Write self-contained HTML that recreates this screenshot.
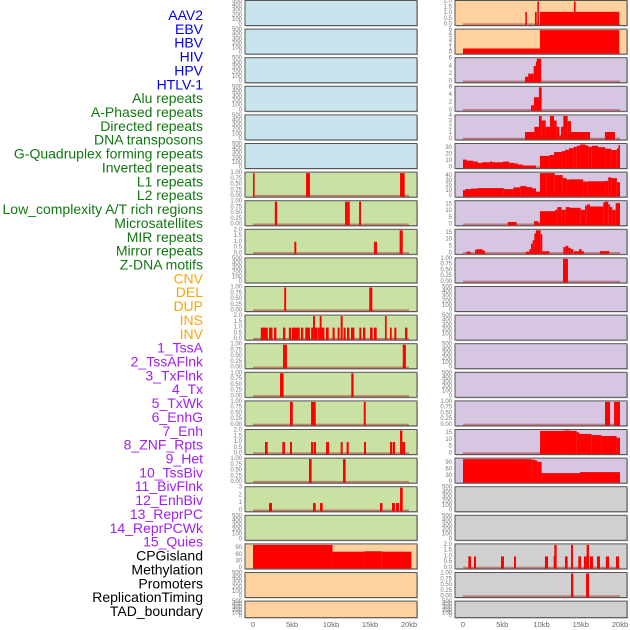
<!DOCTYPE html>
<html><head><meta charset="utf-8">
<style>
html,body{margin:0;padding:0;background:#fff;}
svg{display:block;}
.lbl{font-family:"Liberation Sans",sans-serif;font-size:14px;}
.tk{font-family:"Liberation Sans",sans-serif;font-size:6px;fill:#777;}
.xt{font-family:"Liberation Sans",sans-serif;font-size:7.5px;fill:#666;}
</style></head>
<body>
<svg id="chart" width="630" height="630" viewBox="0 0 630 630"></svg>
<script>
// ---- data: segments [startKb, endKb, value] ----
const labels = ["AAV2","EBV","HBV","HIV","HPV","HTLV-1","Alu repeats","A-Phased repeats","Directed repeats","DNA transposons","G-Quadruplex forming repeats","Inverted repeats","L1 repeats","L2 repeats","Low_complexity A/T rich regions","Microsatellites","MIR repeats","Mirror repeats","Z-DNA motifs","CNV","DEL","DUP","INS","INV","1_TssA","2_TssAFlnk","3_TxFlnk","4_Tx","5_TxWk","6_EnhG","7_Enh","8_ZNF_Rpts","9_Het","10_TssBiv","11_BivFlnk","12_EnhBiv","13_ReprPC","14_ReprPCWk","15_Quies","CPGisland","Methylation","Promoters","ReplicationTiming","TAD_boundary"];
const labelColors = ["#0000ee","#0000ee","#0000ee","#0000ee","#0000ee","#0000ee","#117711","#117711","#117711","#117711","#117711","#117711","#117711","#117711","#117711","#117711","#117711","#117711","#117711","#ffa500","#ffa500","#ffa500","#ffa500","#ffa500","#a020f0","#a020f0","#a020f0","#a020f0","#a020f0","#a020f0","#a020f0","#a020f0","#a020f0","#a020f0","#a020f0","#a020f0","#a020f0","#a020f0","#a020f0","#000","#000","#000","#000","#000"];
const xTickKb = [0,5,10,15,20];
const xTickLabels = ["0","5kb","10kb","15kb","20kb"];

const trAlu = [[0,0.2,1],[6.8,7.3,1],[18.85,19.45,1]];
const trAPhased = [[2.8,3.1,1],[11.8,12.1,1],[12.1,12.4,1],[13.6,13.85,1]];
const trDirected = [[5.3,5.55,1],[15.5,15.9,1],[18.8,19.2,2]];
const trGQuad = [[4.0,4.25,1],[14.9,15.3,1]];
const trInverted = [[1.0,1.9,1],[2.05,2.5,1],[2.7,3.0,1],[3.85,4.15,1],[4.6,4.9,1],[5.0,6.0,1],[6.15,6.45,1],[6.7,7.3,1],[7.45,7.7,1],[7.7,7.95,2],[7.95,8.25,1],[8.3,8.55,1],[8.55,8.8,2],[8.8,9.15,1],[9.35,9.7,1],[10.2,10.47,1],[10.85,11.1,1],[11.24,11.5,2],[11.62,11.88,1],[12.05,12.35,1],[12.56,13.0,1],[13.63,13.89,1],[14.1,14.4,1],[15.0,15.34,1],[15.5,15.86,1],[16.92,17.14,2],[17.56,17.78,1],[18.12,18.38,1],[19.49,19.79,1]];
const trL1 = [[3.85,4.35,1],[19.2,19.6,1]];
const trL2 = [[3.46,3.93,1],[12.6,12.9,1]];
const trLowComp = [[4.74,5.1,1],[7.44,8.04,1],[14.2,14.45,1]];
const trMicro = [[1.54,1.88,1],[3.76,4.1,1],[4.74,5.0,1],[7.44,7.74,1],[7.82,8.08,1],[9.36,9.74,1],[11.24,11.5,1],[12.0,12.27,1],[14.23,14.49,1],[17.56,17.82,1],[17.9,18.2,1],[18.85,19.15,2],[19.15,19.5,1]];
const trMIR = [[7.18,7.52,1],[11.54,11.88,1]];
const trMirror = [[2.05,2.44,1],[7.7,8.04,1],[8.59,8.93,1],[16.28,16.6,1],[17.82,18.2,1],[18.33,18.72,1],[18.85,19.19,3]];
const trDUP = [[0,10.2,105],[10.2,14.3,74],[14.3,16.5,76],[16.5,20.3,74]];
const trINS = [[7.94,8.11,1.1],[9.17,9.39,1.1],[9.47,9.64,2],[9.8,14.14,1.1],[14.14,14.31,2],[14.31,19.9,1.1]];
const trINV = [[0,9.8,1],[9.8,19.9,5]];
const trTssA = [[7.9,8.3,1.3],[8.3,9.0,2.1],[9.0,9.3,4.1],[9.3,9.4,5.2],[9.4,9.97,6.2]];
const trTssAFlnk = [[8.66,9.04,1.3],[9.04,9.68,3.4],[9.68,10.02,6.2]];
const trTxFlnk = [[7.9,9.09,1.2],[9.09,9.68,2.1],[9.68,10.02,4],[10.02,10.53,3.2],[10.53,11.08,2.1],[11.08,11.59,4],[11.59,11.93,3.2],[11.93,12.27,2.1],[12.27,12.48,0.6],[12.48,12.78,2.1],[12.78,13.33,4],[13.33,13.76,3.1],[13.76,16.18,1.2],[18.08,19.36,1.2]];
const trTx = [[0,0.5,12],[0.5,1.3,10.3],[1.3,1.9,9],[1.9,2.4,7],[2.4,3.4,8],[3.4,3.8,9],[3.8,5.1,8],[5.1,5.9,9],[5.9,6.6,7],[6.6,7.0,6],[7.0,7.6,4.5],[7.6,9.3,3],[9.8,11.0,17.7],[11.0,11.6,19],[11.6,12.6,23.6],[12.6,13.0,25],[13.0,13.5,27],[13.5,14.1,29.5],[14.1,14.5,31.5],[14.5,14.9,33],[14.9,15.6,35],[15.6,16.0,33.5],[16.0,16.4,31.5],[16.4,17.2,33],[17.2,18.1,31],[18.1,18.9,28.6],[18.9,19.6,26.6],[19.6,19.8,29],[19.8,20.0,34]];
const trTxWk = [[0,0.3,12],[0.3,1.0,14],[1.0,1.8,15],[1.8,5.2,16],[5.2,6.4,14],[6.4,7.3,17.4],[7.3,8.1,20],[8.1,8.8,18],[8.8,9.3,15.5],[9.3,9.8,9],[9.8,10.6,48],[10.6,11.7,46],[11.7,12.7,42],[12.7,13.2,36],[13.2,13.5,33],[13.5,15.3,33.5],[15.3,15.9,29],[15.9,18.1,29.7],[18.1,18.5,30.5],[18.5,18.9,37.4],[18.9,19.6,36],[19.6,20.0,27.7]];
const trEnhG = [[5.69,6.84,2],[9.04,9.6,2.6],[9.6,9.8,1.5],[9.8,11.72,10],[11.72,12.02,11],[12.02,12.57,13],[12.57,13.08,11],[13.08,13.63,13],[13.63,14.99,12.5],[14.99,15.54,11],[15.54,15.76,14],[15.76,16.18,15],[16.18,17.87,13.5],[17.87,18.09,16.5],[18.09,18.5,18],[18.5,18.73,15],[18.73,19.02,13],[19.02,19.45,11],[19.45,20.0,16]];
const trEnh = [[0.47,0.98,1.2],[1.53,1.74,2.6],[1.74,2.5,3],[2.5,2.8,2],[8.02,8.45,1.2],[8.45,8.66,3],[8.66,8.87,7],[8.87,9.09,9.5],[9.09,9.3,14.5],[9.3,9.89,17],[9.89,10.1,14],[10.1,11.0,1.5],[12.78,13.08,4.6],[13.08,13.42,5.5],[13.42,13.72,4],[13.72,14.05,3],[14.14,14.78,1.5],[14.78,15.11,3],[15.11,15.41,1.5],[17.45,18.64,1.6]];
const trZNF = [[12.74,13.37,1]];
const trEmpty = [];
const trQuies = [[18.09,18.73,1],[19.24,20.0,1]];
const trCPG = [[9.81,12.87,16.5],[12.87,13.63,17],[13.63,14.48,16.5],[14.48,14.78,15.5],[14.78,16.39,14.3],[16.39,17.66,13.5],[17.66,19.57,12.8],[19.57,20.0,11.5]];
const trMeth = [[0,8.74,110],[8.74,9.17,106],[9.17,9.47,103],[9.47,10.02,96],[10.02,14.9,42.6],[14.9,20.0,47.4]];
const trReplic = [[0.68,1.02,1],[1.4,1.66,1],[4.84,5.22,1],[6.5,6.75,1],[10.44,10.83,1],[11.55,11.63,1],[11.63,11.93,2],[12.99,13.33,1],[13.76,14.01,2],[14.69,15.03,1],[15.41,15.75,1],[15.75,16.05,2],[16.18,16.56,1],[17.07,17.45,1],[18.2,18.6,1],[19.49,19.87,1]];
const trTAD = [[13.76,14.05,1],[15.67,16.05,1]];

const tk500 = ["0","100","200","300","400","500"];
const tk1 = ["0.00","0.25","0.50","0.75","1.00"];
const tk2 = ["0.0","0.5","1.0","1.5","2.0"];

// column, row, name, data, tick labels, ymax, background
const tracks = [
 ["AAV2",trEmpty,tk500,500,"#c9e4ec"],["EBV",trEmpty,tk500,500,"#c9e4ec"],["HBV",trEmpty,tk500,500,"#c9e4ec"],["HIV",trEmpty,tk500,500,"#c9e4ec"],["HPV",trEmpty,tk500,500,"#c9e4ec"],["HTLV-1",trEmpty,tk500,500,"#c9e4ec"],
 ["Alu",trAlu,tk1,1,"#c9e2a3"],["A-Phased",trAPhased,tk1,1,"#c9e2a3"],["Directed",trDirected,tk2,2,"#c9e2a3"],["DNA-transposons",trEmpty,tk500,500,"#c9e2a3"],["G-Quadruplex",trGQuad,tk1,1,"#c9e2a3"],["Inverted",trInverted,tk2,2,"#c9e2a3"],["L1",trL1,tk1,1,"#c9e2a3"],["L2",trL2,tk1,1,"#c9e2a3"],["Low-complexity",trLowComp,tk1,1,"#c9e2a3"],["Microsatellites",trMicro,tk2,2,"#c9e2a3"],["MIR",trMIR,tk1,1,"#c9e2a3"],["Mirror",trMirror,["0","1","2","3"],3,"#c9e2a3"],["Z-DNA",trEmpty,tk500,500,"#c9e2a3"],
 ["CNV",trDUP,["0","30","60","90"],105,"#fed19f"],["DEL",trEmpty,tk500,500,"#fed19f"],["DUP",trEmpty,tk500,500,"#fed19f"],
 ["INS",trINS,tk2,2,"#fed19f"],["INV",trINV,["0","1","2","3","4","5"],5,"#fed19f"],
 ["1_TssA",trTssA,["0","2","4","6"],6,"#d6c6e2"],["2_TssAFlnk",trTssAFlnk,["0","2","4","6"],6,"#d6c6e2"],["3_TxFlnk",trTxFlnk,["0","1","2","3","4"],4,"#d6c6e2"],["4_Tx",trTx,["0","10","20","30"],35,"#d6c6e2"],["5_TxWk",trTxWk,["0","10","20","30","40"],46,"#d6c6e2"],["6_EnhG",trEnhG,["0","5","10","15"],17,"#d6c6e2"],["7_Enh",trEnh,["0","5","10","15"],16.8,"#d6c6e2"],["8_ZNF",trZNF,tk1,1,"#d6c6e2"],["9_Het",trEmpty,tk500,500,"#d6c6e2"],["10_TssBiv",trEmpty,tk500,500,"#d6c6e2"],["11_BivFlnk",trEmpty,tk500,500,"#d6c6e2"],["12_EnhBiv",trEmpty,tk500,500,"#d6c6e2"],["13_ReprPC",trQuies,tk1,1,"#d6c6e2"],["14_ReprPCWk",trCPG,["0","5","10","15"],16.8,"#d6c6e2"],["15_Quies",trMeth,["0","30","60","90"],109,"#d6c6e2"],
 ["CPGisland",trEmpty,tk500,500,"#d0d0d0"],["Methylation",trEmpty,tk500,500,"#d0d0d0"],["Promoters",trReplic,tk2,2,"#d0d0d0"],["ReplicationTiming",trTAD,tk1,1,"#d0d0d0"],["TAD_boundary",trEmpty,tk500,500,"#d0d0d0"]
];

const NS = "http://www.w3.org/2000/svg";
const svg = document.getElementById("chart");
function mk(tag, attrs, parent){ const e=document.createElementNS(NS,tag); for(const k in attrs) e.setAttribute(k,attrs[k]); (parent||svg).appendChild(e); return e; }

// labels
labels.forEach((t,i)=>{
  const e = mk("text",{x:203,y:15+i*13.86,"text-anchor":"end","dominant-baseline":"central",class:"lbl",fill:labelColors[i]});
  e.textContent = t;
  
  
});

const cols = [{px:245,pw:172,x0:253,x20:409},{px:455,pw:172,x0:463,x20:620}];
function xScale(c,kb){ return c.x0 + (c.x20-c.x0)*kb/20; }

tracks.forEach((tr,idx)=>{
  const ci = idx<22?0:1, ri = idx%22, c = cols[ci];
  const top = ri*28.6 + 0.5;
  const h = ri===21 ? 16.5 : 25;
  const bot = top+h;
  const [name,data,ticks,ymax,bg] = tr;
  const g = mk("g",{});
  
  
  const yS = v => (bot-1) - (Math.min(v,ymax)/ymax)*(h-2);
  mk("rect",{x:c.px+1,y:top+1,width:c.pw,height:h,fill:"#bbb"},g);
  mk("rect",{x:c.px,y:top,width:c.pw,height:h,fill:bg,stroke:"#555","stroke-width":1},g);
  if(data.length){
    mk("rect",{x:c.x0,y:yS(0)-1.2,width:c.x20-c.x0,height:2,fill:"rgba(170,60,60,0.55)"},g);
  }
  data.forEach(s=>{
    const x1=xScale(c,s[0]), x2=xScale(c,s[1]);
    const r = mk("rect",{x:x1,y:yS(s[2]),width:Math.max(x2-x1,1.6),height:yS(0)-yS(s[2])+0.5,fill:"#ff0000"},g);
    
    
  });
  const maxTick = parseFloat(ticks[ticks.length-1]);
  ticks.forEach(tl=>{
    const v = parseFloat(tl);
    const t = mk("text",{x:c.px-3,y:yS(v*(ymax===500?1:1)),"text-anchor":"end","dominant-baseline":"central",class:"tk"},g);
    t.textContent = tl;
    
    
  });
});

cols.forEach(c=>{
  xTickKb.forEach((kb,i)=>{
    const t = mk("text",{x:xScale(c,kb),y:627,"text-anchor":"middle",class:"xt"});
    t.textContent = xTickLabels[i];
    
    
  });
});
</script>
</body></html>
